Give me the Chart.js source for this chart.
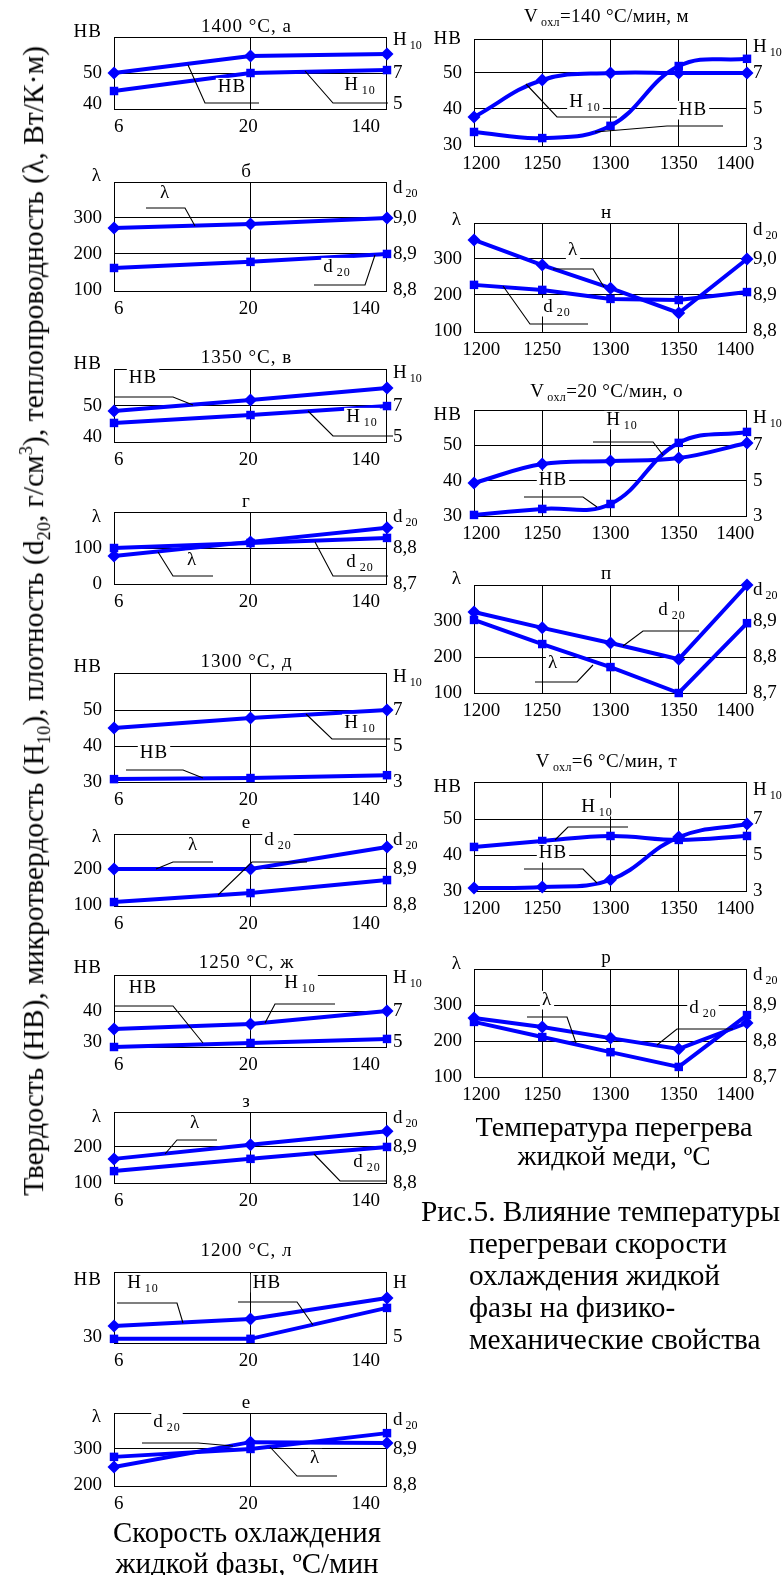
<!DOCTYPE html>
<html><head><meta charset="utf-8">
<script src="https://cdn.jsdelivr.net/npm/chart.js@4.4.1/dist/chart.umd.min.js"></script>
<style>
html,body{margin:0;padding:0;background:#fff;}
body{width:784px;height:1575px;position:relative;overflow:hidden;font-family:"Liberation Serif","Times New Roman",serif;color:#000;}
canvas{position:absolute;}
.t{position:absolute;white-space:nowrap;line-height:1;color:#000;}
.t sub,.t sup{font-size:62%;line-height:0;}
</style></head>
<body>
<script>
// ---------- categories / tick labels ----------
const coolingRate = ['6', '20', '140'];                 // °C/min
const overheatT   = ['1200', '1250', '1300', '1350', '1400']; // °C

// ---------- left column: property vs cooling rate ----------
const a_HB   = [50.0, 55.5, 56.1];   const a_H10  = [5.84, 7.0, 7.19];      // 1400 °C
const b_lam  = [272, 283, 300];      const b_d20  = [8.861, 8.878, 8.9];
const v_HB   = [48.4, 51.9, 55.8];   const v_H10  = [5.91, 6.42, 7.0];      // 1350 °C
const g_lam  = [78, 117, 156];       const g_d20  = [8.8, 8.814, 8.828];
const d_H10  = [6.0, 6.56, 7.0];     const d_HB   = [30.8, 31.1, 31.9];     // 1300 °C
const e1_lam = [200, 200, 261];      const e1_d20 = [8.808, 8.833, 8.869];
const zh_H10 = [5.84, 6.16, 7.0];    const zh_HB  = [28.4, 29.7, 31.0];     // 1250 °C
const z_lam  = [167, 206, 244];      const z_d20  = [8.833, 8.867, 8.9];
const l_H10  = [5.71, 6.16, 7.51];   const l_HB   = [29.4, 29.4, 39.4];     // 1200 °C
const e2_lam = [250, 319, 317];      const e2_d20 = [8.878, 8.9, 8.944];

// ---------- right column: property vs overheat temperature ----------
const m_H10 = [4.55, 6.61, 7.0, 7.0, 7.0];      const m_HB  = [33.6, 31.9, 35.3, 51.9, 53.9];   // 140 °C/min
const n_lam = [353, 283, 219, 150, 300];        const n_d20 = [8.928, 8.914, 8.889, 8.886, 8.908];
const o_HB  = [30.3, 32.0, 33.4, 50.7, 53.8];   const o_H10 = [4.87, 5.94, 6.11, 6.28, 7.13];  // 20 °C/min
const p_d20 = [8.925, 8.881, 8.839, 8.794, 9.0];const p_lam = [303, 236, 172, 100, 294];
const t_HB  = [30.8, 31.1, 33.1, 45.0, 48.6];   const t_H10 = [5.45, 5.78, 6.06, 5.84, 6.06];  // 6 °C/min
const r_d20 = [8.864, 8.839, 8.808, 8.778, 8.85];const r_lam = [253, 211, 169, 128, 272];

// ---------- axis tick values ----------
const hbTicks3 = [30, 40, 50], hbTicks2a = [40, 50], hbTicks2b = [30, 40];
const h10Ticks3 = [3, 5, 7], h10Ticks2 = [5, 7];
const lamTicks3 = [100, 200, 300];
const dTicksHi = [8.8, 8.9, 9.0], dTicksLo = [8.7, 8.8, 8.9];

// ---------- layout ----------
const FONT = '"Liberation Serif", "Times New Roman", serif';
const BLUE = '#0000ff';
const LW = 80, RW = 54, TP = 40, BP = 32, PW = 273;
const LX = 114, RX = 474;
const D = 'rectRot', S = 'rect';
const padL = [2, -1, -9], padR = [3, 0, 0, 0, -5];   // x-label nudges (spaces)

const panels = [
 {x:LX,y:37,h:72,cats:coolingRate,vg:[1],yL:{min:38.4,max:61.6,t:hbTicks2a,g:[50]},yR:{min:4.68,max:9.32,t:h10Ticks2},
  s:[[a_HB,'yL',D],[a_H10,'yR',S]],title:['1400 °С, а',-10],lt:['НВ',-5],rt:['H_{10}',3],
  notes:[['НВ',118,50],['H_{10}',246,48]],lead:[[[74,28],[91,66],[145,66]],[[191,34],[219,66],[274,66]]]},
 {x:LX,y:182,h:109,cats:coolingRate,vg:[1],yL:{min:97.2,max:400,t:lamTicks3,g:[200,300]},yR:{min:8.797,max:9.1,t:dTicksHi},
  s:[[b_lam,'yL',D],[b_d20,'yR',S]],title:['б',-10],lt:['λ',-6],rt:['d_{20}',6],
  notes:[['λ',51,11],['d_{20}',223,85]],lead:[[[32,26],[71,26],[81,44]],[[261,73],[251,103],[200,103]]]},
 {x:LX,y:369,h:73,cats:coolingRate,vg:[1],yL:{min:38.4,max:61.9,t:hbTicks2a,g:[50]},yR:{min:4.68,max:9.39,t:h10Ticks2},
  s:[[v_HB,'yL',D],[v_H10,'yR',S]],title:['1350 °С, в',-11],lt:['НВ',-5],rt:['H_{10}',4],
  notes:[['НВ',29,9],['H_{10}',248,48]],lead:[[[0,28],[59,28],[79,36]],[[194,42],[219,67],[279,67]]]},
 {x:LX,y:512,h:72,cats:coolingRate,vg:[1],yL:{min:0,max:200,t:[0,100],g:[100]},yR:{min:8.7,max:8.9,t:[8.7,8.8]},
  s:[[g_lam,'yL',D],[g_d20,'yR',S]],title:['г',-10],lt:['λ',5],rt:['d_{20}',5],
  notes:[['λ',78,48],['d_{20}',246,50]],lead:[[[44,40],[59,64],[99,64]],[[201,30],[219,64],[274,64]]]},
 {x:LX,y:673,h:109,cats:coolingRate,vg:[1],yL:{min:30,max:60.3,t:hbTicks3,g:[40,50]},yR:{min:3,max:9.06,t:h10Ticks3},
  s:[[d_H10,'yR',D],[d_HB,'yL',S]],title:['1300 °С, д',-11],lt:['НВ',-6],rt:['H_{10}',4],
  notes:[['H_{10}',246,50],['НВ',40,80]],lead:[[[192,41],[218,66],[276,66]],[[12,97],[69,97],[89,105]]]},
 {x:LX,y:834,h:72,cats:coolingRate,vg:[1],yL:{min:97.2,max:297.2,t:[100,200],g:[200]},yR:{min:8.797,max:8.997,t:[8.8,8.9]},
  s:[[e1_lam,'yL',D],[e1_d20,'yR',S]],title:['е',-11],lt:['λ',3],rt:['d_{20}',6],
  notes:[['λ',79,11],['d_{20}',164,6]],lead:[[[42,35],[59,28],[99,28]],[[104,61],[138,28],[193,28]]]},
 {x:LX,y:975,h:72,cats:coolingRate,vg:[1],yL:{min:28.4,max:51.6,t:hbTicks2b,g:[40]},yR:{min:4.68,max:9.32,t:h10Ticks2},
  s:[[zh_H10,'yR',D],[zh_HB,'yL',S]],title:['1250 °С, ж',-12],lt:['НВ',-7],rt:['H_{10}',3],
  notes:[['НВ',29,13],['H_{10}',186,8]],lead:[[[0,31],[59,31],[89,68]],[[151,48],[161,29],[221,29]]]},
 {x:LX,y:1112,h:71,cats:coolingRate,vg:[1],yL:{min:100,max:297.2,t:[100,200],g:[200]},yR:{min:8.8,max:8.997,t:[8.8,8.9]},
  s:[[z_lam,'yL',D],[z_d20,'yR',S]],title:['з',-10],lt:['λ',5],rt:['d_{20}',6],
  notes:[['λ',81,11],['d_{20}',253,50]],lead:[[[51,42],[63,28],[103,28]],[[200,42],[226,69],[273,69]]]},
 {x:LX,y:1272,h:71,cats:coolingRate,vg:[1],yL:{min:28.06,max:51.0,t:[30],g:[]},yR:{min:4.61,max:9.19,t:[5]},
  s:[[l_H10,'yR',D],[l_HB,'yL',S]],title:['1200 °С, л',-21],lt:['НВ',8],rt:['H',11],
  notes:[['H_{10}',29,11],['НВ',153,11]],lead:[[[3,31],[63,31],[69,51]],[[124,30],[183,30],[199,53]]]},
 {x:LX,y:1413,h:73,cats:coolingRate,vg:[1],yL:{min:197.2,max:400,t:[200,300],g:[300]},yR:{min:8.797,max:9.0,t:[8.8,8.9]},
  s:[[e2_lam,'yL',D],[e2_d20,'yR',S]],title:['е',-10],lt:['λ',4],rt:['d_{20}',7],
  notes:[['d_{20}',53,9],['λ',201,45]],lead:[[[28,30],[84,30],[119,33]],[[156,34],[183,63],[223,63]]]},

 {x:RX,y:39,h:107,cats:overheatT,vg:[1,2,3],ten:0.4,yL:{min:29.7,max:59.4,t:hbTicks3,g:[40,50]},yR:{min:2.94,max:8.89,t:h10Ticks3},
  s:[[m_H10,'yR',D],[m_HB,'yL',S]],title:['V_{охл}=140 °С/мин, м',-22],lt:['НВ',0],rt:['H_{10}',8],
  notes:[['H_{10}',111,63],['НВ',219,71]],lead:[[[52,45],[83,78],[143,78]],[[121,93],[193,87],[249,87]]]},
 {x:RX,y:223,h:109,cats:overheatT,vg:[1,2,3],yL:{min:97.2,max:400,t:lamTicks3,g:[200,300]},yR:{min:8.797,max:9.1,t:dTicksHi},
  s:[[n_lam,'yL',D],[n_d20,'yR',S]],title:['н',-10],lt:['λ',-3],rt:['d_{20}',7],
  notes:[['λ',99,27],['d_{20}',83,84]],lead:[[[79,46],[119,46],[130,64]],[[29,63],[56,101],[114,101]]]},
 {x:RX,y:410,h:106,cats:overheatT,vg:[1,2,3],ten:0.4,yL:{min:30,max:60,t:hbTicks3,g:[40,50]},yR:{min:3,max:9,t:h10Ticks3},
  s:[[o_HB,'yL',S],[o_H10,'yR',D]],title:['V_{охл}=20 °С/мин, о',-18],lt:['НВ',5],rt:['H_{10}',8],
  notes:[['H_{10}',148,10],['НВ',79,70]],lead:[[[119,32],[179,32],[189,45]],[[50,87],[109,87],[123,97]]]},
 {x:RX,y:585,h:108,cats:overheatT,vg:[1,2,3],yL:{min:100,max:400,t:lamTicks3,g:[200]},yR:{min:8.7,max:9.0,t:dTicksLo},
  s:[[p_d20,'yR',D],[p_lam,'yL',S]],title:['п',-11],lt:['λ',-6],rt:['d_{20}',5],
  notes:[['d_{20}',198,25],['λ',79,78]],lead:[[[149,61],[169,46],[225,46]],[[119,80],[103,97],[61,97]]]},
 {x:RX,y:782,h:109,cats:overheatT,vg:[1,2,3],ten:0.4,yL:{min:30,max:60.3,t:hbTicks3,g:[40,50]},yR:{min:3,max:9.06,t:h10Ticks3},
  s:[[t_HB,'yL',D],[t_H10,'yR',S]],title:['V_{охл}=6 °С/мин, т',-20],lt:['НВ',5],rt:['H_{10}',8],
  notes:[['H_{10}',123,25],['НВ',79,71]],lead:[[[81,58],[94,45],[154,45]],[[50,87],[109,87],[123,101]]]},
 {x:RX,y:969,h:108,cats:overheatT,vg:[1,2,3],yL:{min:100,max:400,t:lamTicks3,g:[200,300]},yR:{min:8.7,max:9.0,t:dTicksLo},
  s:[[r_d20,'yR',D],[r_lam,'yL',S]],title:['р',-11],lt:['λ',-5],rt:['d_{20}',6],
  notes:[['λ',73,31],['d_{20}',229,39]],lead:[[[53,48],[93,48],[102,74]],[[183,76],[203,60],[259,60]]]}
];

// ---------- rich text helper (subscripts) ----------
function parts(str){
  const out=[]; const re=/_\{([^}]*)\}/g; let last=0,m;
  while((m=re.exec(str))){ if(m.index>last) out.push({t:str.slice(last,m.index),sub:false}); out.push({t:m[1],sub:true}); last=re.lastIndex; }
  if(last<str.length) out.push({t:str.slice(last),sub:false});
  return out;
}
function drawRich(ctx,str,x,y,size,align,bg,ls){
  const ps=parts(str), sub=Math.round(size*0.64);
  ctx.letterSpacing = ls||'0px';
  let w=0; const ws=[];
  ps.forEach(p=>{ctx.font=(p.sub?sub:size)+'px '+FONT; const g=p.sub?3:0; const pw=ctx.measureText(p.t).width; ws.push([g,pw]); w+=g+pw;});
  let x0 = align==='center'? x-w/2 : align==='right'? x-w : x;
  if(bg){ctx.fillStyle='#fff'; ctx.fillRect(x0-2,y-size*0.48,w+4,size*0.98);}
  ctx.fillStyle='#000'; ctx.textBaseline='middle'; ctx.textAlign='left';
  let cx=x0;
  ps.forEach((p,i)=>{ctx.font=(p.sub?sub:size)+'px '+FONT; cx+=ws[i][0]; ctx.fillText(p.t,cx,y+(p.sub?size*0.33:0)); cx+=ws[i][1];});
  ctx.letterSpacing='0px';
}

const deco = {
  id:'deco',
  beforeDatasetsDraw(chart){
    const a=chart.chartArea, c=chart.ctx;
    c.save(); c.strokeStyle='#000'; c.lineWidth=1;
    c.strokeRect(a.left+0.5,a.top+0.5,a.right-a.left-1,a.bottom-a.top);
    c.restore();
  },
  afterDatasetsDraw(chart){
    const a=chart.chartArea, c=chart.ctx, P=chart.options.plugins.deco.panel;
    c.save();
    c.strokeStyle='#000'; c.lineWidth=1.1;
    P.lead.forEach(l=>{c.beginPath(); l.forEach((p,i)=>{const X=a.left+p[0],Y=a.top+p[1]; i?c.lineTo(X,Y):c.moveTo(X,Y);}); c.stroke();});
    P.notes.forEach(n=>drawRich(c,n[0],a.left+n[1],a.top+n[2],19,'center',true,'1px'));
    const isV = P.title[0].startsWith('V');
    drawRich(c,P.title[0],(a.left+a.right)/2-4,a.top+P.title[1],19,'center',true,isV?'0.4px':'1px');
    drawRich(c,P.lt[0],a.left-12,a.top+P.lt[1],19,'right',false,'1px');
    drawRich(c,P.rt[0],a.right+6,a.top+P.rt[1],19,'left',false,'0px');
    c.restore();
  }
};

function fmtFor(list){
  const dec = list.some(v=>!Number.isInteger(v));
  return v => dec ? v.toFixed(1).replace('.',',') : String(v);
}

panels.forEach(P=>{
  const cv=document.createElement('canvas');
  const W=LW+PW+RW, H=TP+P.h+BP;
  cv.width=W; cv.height=H;
  cv.style.left=(P.x-LW)+'px'; cv.style.top=(P.y-TP)+'px';
  cv.style.width=W+'px'; cv.style.height=H+'px';
  document.body.appendChild(cv);
  const tickFont={family:FONT,size:19};
  const fL=fmtFor(P.yL.t), fR=fmtFor(P.yR.t);
  const pads = P.cats.length===3 ? padL : padR;
  new Chart(cv,{
    type:'line',
    data:{labels:P.cats,datasets:P.s.map(s=>({
      data:s[0],yAxisID:s[1],borderColor:BLUE,backgroundColor:BLUE,borderWidth:4,
      pointStyle:s[2],pointRadius:s[2]===S?6:6.5,pointBorderWidth:0,pointBackgroundColor:BLUE,
      tension:P.ten||0,clip:false,fill:false}))},
    options:{
      responsive:false,animation:false,devicePixelRatio:1,
      layout:{padding:{top:TP,left:0,right:0,bottom:0}},
      plugins:{legend:{display:false},tooltip:{enabled:false},title:{display:false},deco:{panel:P}},
      scales:{
        x:{type:'category',offset:false,position:'bottom',
           grid:{offset:false,drawTicks:false,lineWidth:1,color:c=>P.vg.includes(c.index)?'#000':'rgba(0,0,0,0)'},
           border:{display:false},
           ticks:{font:tickFont,color:'#000',padding:7,autoSkip:false,maxRotation:0,
             callback:function(v,i){const lab=this.getLabelForValue(v); const p=pads[i]||0;
               return p>0?' '.repeat(p)+lab : p<0? lab+' '.repeat(-p) : lab;}},
           afterFit:s=>{s.height=BP;}},
        yL:{type:'linear',position:'left',min:P.yL.min,max:P.yL.max,
           afterBuildTicks:s=>{s.ticks=P.yL.t.map(v=>({value:v}));},
           grid:{drawTicks:false,lineWidth:1,color:c=>(c.tick&&P.yL.g.includes(c.tick.value))?'#000':'rgba(0,0,0,0)'},
           border:{display:false},
           ticks:{font:tickFont,color:'#000',padding:12,callback:v=>fL(v)},
           afterFit:s=>{s.width=LW;}},
        yR:{type:'linear',position:'right',min:P.yR.min,max:P.yR.max,
           afterBuildTicks:s=>{s.ticks=P.yR.t.map(v=>({value:v}));},
           grid:{display:false,drawTicks:false},
           border:{display:false},
           ticks:{font:tickFont,color:'#000',padding:6,callback:v=>fR(v)},
           afterFit:s=>{s.width=RW;}}
      }
    },
    plugins:[deco]
  });
});

// ---------- HTML text ----------
function txt(html,size,opts){
  const d=document.createElement('div'); d.className='t'; d.innerHTML=html;
  d.style.fontSize=size+'px'; document.body.appendChild(d);
  if(opts.fitW){ const w=d.getBoundingClientRect().width; size=size*opts.fitW/w; d.style.fontSize=size+'px'; }
  const r=d.getBoundingClientRect();
  let left = opts.align==='center'? opts.x-r.width/2 : opts.x;
  d.style.left=left+'px'; d.style.top=(opts.y-r.height/2)+'px';
  if(opts.rot){ d.style.transformOrigin='50% 50%'; d.style.transform='rotate(-90deg)'; d.style.left=(opts.x-r.width/2)+'px'; }
  return size;
}
txt('Твердость (НВ), микротвердость (Н<sub>10</sub>), плотность (d<sub>20</sub>, г/см<sup>3</sup>), теплопроводность (λ, Вт/К·м)',24,{x:34,y:621,rot:true,fitW:1150});
txt('Скорость охлаждения',26,{x:247,y:1532,align:'center',fitW:268});
txt('жидкой фазы, ºС/мин',26,{x:247,y:1563,align:'center',fitW:263});
txt('Температура перегрева',26,{x:614,y:1127,align:'center',fitW:277});
txt('жидкой меди, ºС',26,{x:614,y:1157,align:'center',fitW:193});
const cs=txt('Рис.5. Влияние температуры',26,{x:421,y:1212,fitW:359});
['перегреваи скорости','охлаждения жидкой','фазы на физико-','механические свойства'].forEach((s,i)=>txt(s,cs,{x:469,y:1244+i*32}));
</script>
</body></html>
